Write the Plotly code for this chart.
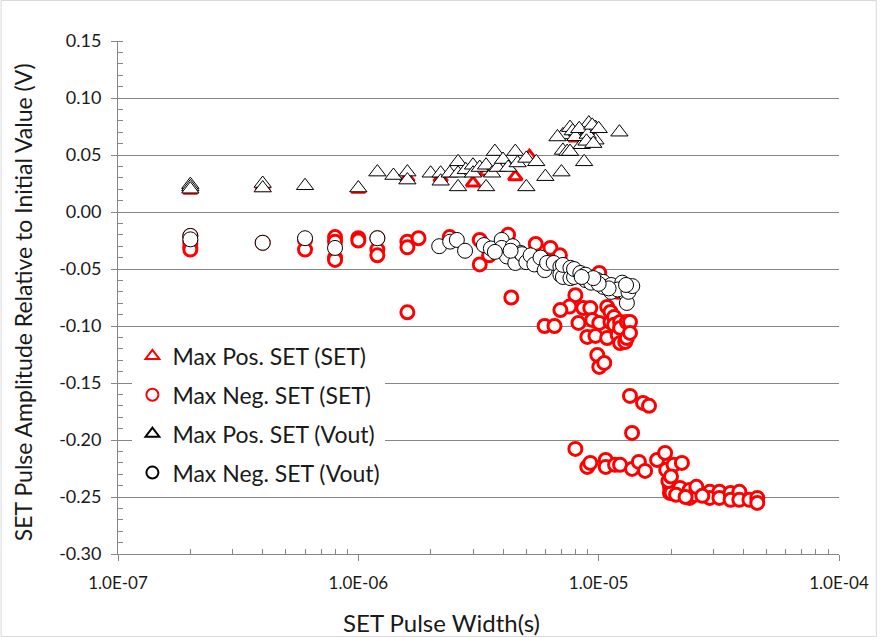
import plotly.graph_objects as go

# ---- data (pulse width in s, amplitude in V) ----
pos_set_x = [2e-7, 2e-7, 4e-7, 1e-6, 1.6e-6, 2.2e-6, 3.0e-6, 3.4e-6, 4.0e-6, 4.5e-6, 5.15e-6, 8e-6, 9e-6]
pos_set_y = [0.019, 0.021, 0.022, 0.020, 0.030, 0.030, 0.0255, 0.035, 0.040, 0.031, 0.049, 0.065, 0.070]

neg_set_x = [2e-7, 2e-7, 2e-7, 2e-7, 2e-7, 4e-7, 6e-7, 6e-7, 8e-7, 8e-7, 8e-7, 8e-7,
             1e-6, 1e-6, 1.2e-6, 1.2e-6, 1.2e-6, 1.6e-6, 1.6e-6, 1.6e-6, 1.78e-6, 2.4e-6,
             3.2e-6, 3.2e-6, 3.5e-6, 4.2e-6, 4.33e-6, 5.47e-6, 6.3e-6, 6.9e-6,
             4.5e-6, 5.0e-6, 7.0e-6, 8.0e-6, 9.0e-6, 1.2e-5, 1.006e-5,
             8.0e-6, 7.56e-6, 6.93e-6, 5.96e-6, 6.55e-6, 8.24e-6, 8.63e-6, 8.97e-6,
             9.23e-6, 9.4e-6, 9.7e-6, 9.87e-6, 1.006e-5, 1.006e-5, 1.055e-5, 1.085e-5,
             1.085e-5, 1.12e-5, 1.12e-5, 1.16e-5, 1.16e-5, 1.2e-5, 1.228e-5, 1.228e-5,
             1.228e-5, 1.29e-5, 1.31e-5, 1.31e-5, 1.35e-5, 1.35e-5,
             1.35e-5, 1.53e-5, 1.62e-5, 1.377e-5,
             8.0e-6, 8.97e-6, 9.23e-6, 1.07e-5, 1.07e-5, 1.17e-5, 1.228e-5, 1.377e-5,
             1.47e-5, 1.56e-5, 1.75e-5, 1.89e-5, 1.91e-5, 2.05e-5, 2.22e-5,
             1.98e-5, 1.98e-5, 2.01e-5, 2.18e-5, 2.39e-5, 2.39e-5, 2.39e-5, 2.51e-5,
             2.55e-5, 2.9e-5, 2.9e-5, 3.18e-5, 3.18e-5, 3.54e-5, 3.54e-5, 3.85e-5,
             3.85e-5, 4.24e-5, 4.57e-5, 4.57e-5,
             1.95e-5, 2.0e-5, 2.1e-5, 2.3e-5, 2.7e-5]
neg_set_y = [-0.021, -0.025, -0.028, -0.031, -0.033, -0.027, -0.0245, -0.033, -0.022, -0.026, -0.040, -0.042,
             -0.023, -0.025, -0.023, -0.033, -0.038, -0.026, -0.031, -0.088, -0.023, -0.022,
             -0.0245, -0.046, -0.038, -0.020, -0.075, -0.028, -0.0315, -0.038,
             -0.035, -0.040, -0.050, -0.055, -0.060, -0.070, -0.0535,
             -0.073, -0.083, -0.086, -0.100, -0.100, -0.0973, -0.0842, -0.1096,
             -0.0842, -0.0947, -0.1087, -0.1254, -0.0973, -0.1359, -0.1324, -0.0833,
             -0.1105, -0.0965, -0.0877, -0.092, -0.099, -0.1078, -0.0965, -0.1017,
             -0.1149, -0.114, -0.0965, -0.1105, -0.0965, -0.1061,
             -0.1613, -0.1675, -0.170, -0.1938,
             -0.2078, -0.2236, -0.2201, -0.2175, -0.2236, -0.2218, -0.2218, -0.2254,
             -0.2192, -0.2271, -0.2175, -0.2113, -0.2262, -0.2218, -0.2201,
             -0.2411, -0.2464, -0.2464, -0.242, -0.2464, -0.2508, -0.2438, -0.2482,
             -0.2411, -0.2455, -0.2508, -0.2455, -0.2508, -0.2464, -0.2525, -0.2455,
             -0.2525, -0.2525, -0.2508, -0.2552,
             -0.236, -0.232, -0.248, -0.250, -0.249]

pos_vout_x = [2e-7, 2e-7, 2e-7, 4e-7, 4e-7, 6e-7, 1e-6, 1.2e-6, 1.4e-6, 1.6e-6, 1.6e-6,
              2e-6, 2.2e-6, 2.2e-6, 2.4e-6, 2.6e-6, 2.6e-6, 2.6e-6, 2.8e-6, 3.0e-6, 3.0e-6,
              3.2e-6, 3.4e-6, 3.4e-6, 3.6e-6, 3.7e-6, 3.8e-6, 4.0e-6, 4.2e-6, 4.5e-6, 4.6e-6,
              5.0e-6, 5.0e-6, 5.5e-6, 6.0e-6, 7.0e-6, 7.1e-6, 7.1e-6, 6.74e-6, 7.4e-6,
              7.6e-6, 7.6e-6, 8.15e-6, 8.5e-6, 8.7e-6, 8.7e-6, 9.1e-6, 9.7e-6, 9.7e-6, 1.22e-5,
              7.8e-6, 8.0e-6, 8.3e-6, 9.0e-6, 9.4e-6, 1.0e-5, 8.9e-6, 9.5e-6]
pos_vout_y = [0.024, 0.022, 0.020, 0.025, 0.021, 0.023, 0.021, 0.035, 0.032, 0.035, 0.028,
              0.034, 0.034, 0.027, 0.034, 0.044, 0.034, 0.022, 0.037, 0.041, 0.034,
              0.039, 0.041, 0.022, 0.034, 0.053, 0.039, 0.046, 0.039, 0.053, 0.043,
              0.022, 0.047, 0.044, 0.031, 0.035, 0.054, 0.0676, 0.0658, 0.053,
              0.074, 0.053, 0.070, 0.059, 0.072, 0.044, 0.078, 0.074, 0.063, 0.070,
              0.071, 0.066, 0.073, 0.068, 0.076, 0.073, 0.062, 0.060]

neg_vout_x = [2e-7, 2e-7, 4e-7, 6e-7, 8e-7, 1.2e-6, 2.17e-6, 2.41e-6, 2.57e-6, 2.78e-6,
              3.33e-6, 3.56e-6, 3.95e-6, 3.95e-6, 4.15e-6, 4.39e-6, 4.5e-6, 4.74e-6, 4.8e-6,
              5.0e-6, 5.21e-6, 5.4e-6, 5.73e-6, 5.96e-6, 6.1e-6, 6.5e-6, 6.93e-6, 6.93e-6,
              7.1e-6, 7.1e-6, 7.63e-6, 7.63e-6, 7.9e-6, 7.9e-6, 8.39e-6, 8.8e-6, 8.8e-6,
              9.3e-6, 9.87e-6, 1.045e-5, 1.045e-5, 1.127e-5, 1.127e-5, 1.253e-5, 1.29e-5,
              1.31e-5, 1.35e-5, 1.2e-5, 1.1e-5, 1.0e-5, 1.33e-5, 9.5e-6, 8.5e-6, 3.7e-6,
              4.3e-6, 1.38e-5, 1.3e-5]
neg_vout_y = [-0.021, -0.024, -0.027, -0.023, -0.0315, -0.023, -0.030, -0.026, -0.0245, -0.034,
              -0.029, -0.032, -0.0245, -0.0315, -0.039, -0.030, -0.0447, -0.036, -0.037,
              -0.044, -0.038, -0.046, -0.040, -0.051, -0.0447, -0.0447, -0.048, -0.055,
              -0.057, -0.0464, -0.049, -0.058, -0.057, -0.050, -0.0535, -0.0596, -0.055,
              -0.062, -0.0596, -0.0613, -0.0657, -0.064, -0.0701, -0.062, -0.071,
              -0.0798, -0.0666, -0.068, -0.067, -0.063, -0.070, -0.058, -0.057, -0.035,
              -0.034, -0.065, -0.064]

x_tick_vals = [1e-7, 1e-6, 1e-5, 1e-4]
x_tick_text = ["1.0E-07", "1.0E-06", "1.0E-05", "1.0E-04"]
y_tick_vals = [0.15, 0.10, 0.05, 0.0, -0.05, -0.10, -0.15, -0.20, -0.25, -0.30]
y_tick_text = ["0.15", "0.10", "0.05", "0.00", "-0.05", "-0.10", "-0.15", "-0.20", "-0.25", "-0.30"]

FONT = "Lato"
RED = "#ff0000"
TXT = "#1a1a1a"

fig = go.Figure()
fig.add_trace(go.Scatter(x=pos_set_x, y=pos_set_y, mode="markers", name="Max Pos. SET (SET)",
                         legendgroup="a",
                         marker=dict(symbol="triangle-up", size=12, color="white",
                                     line=dict(color=RED, width=3))))
fig.add_trace(go.Scatter(x=neg_set_x, y=neg_set_y, mode="markers", name="Max Neg. SET (SET)",
                         legendgroup="b",
                         marker=dict(symbol="circle", size=13, color="white",
                                     line=dict(color=RED, width=3))))
fig.add_trace(go.Scatter(x=pos_vout_x, y=pos_vout_y, mode="markers", name="Max Pos. SET (Vout)",
                         legendgroup="c",
                         marker=dict(symbol="triangle-up", size=15, color="white",
                                     line=dict(color="black", width=1))))
fig.add_trace(go.Scatter(x=neg_vout_x, y=neg_vout_y, mode="markers", name="Max Neg. SET (Vout)",
                         legendgroup="d",
                         marker=dict(symbol="circle", size=15, color="white",
                                     line=dict(color="black", width=1))))

axis_color = "#868686"
fig.update_xaxes(type="log", range=[-7, -4], tickvals=x_tick_vals, ticktext=x_tick_text,
                 showgrid=False, showline=True, linecolor=axis_color, linewidth=1,
                 ticks="outside", ticklen=6, tickcolor=axis_color, ticklabelstandoff=8,
                 minor=dict(ticks="inside", ticklen=5, tickcolor=axis_color, showgrid=False,
                            tickvals=[m * 10 ** e for e in (-7, -6, -5) for m in range(2, 10)]),
                 tickfont=dict(family=FONT, size=17, color=TXT),
                 zeroline=False)
fig.update_yaxes(range=[-0.30, 0.15], tickvals=y_tick_vals, ticktext=y_tick_text,
                 showgrid=True, gridcolor=axis_color, gridwidth=1,
                 showline=True, linecolor=axis_color, linewidth=1,
                 ticks="outside", ticklen=6, tickcolor=axis_color, ticklabelstandoff=6,
                 minor=dict(ticks="inside", ticklen=5, tickcolor=axis_color, dtick=0.01, showgrid=False),
                 tickfont=dict(family=FONT, size=18, color=TXT),
                 zeroline=False)

fig.update_layout(
    width=881, height=637,
    margin=dict(l=118, r=38, t=41, b=83),
    paper_bgcolor="white", plot_bgcolor="white",
    showlegend=True,
    legend=dict(x=0.02, y=0.428, xanchor="left", yanchor="top",
                bgcolor="white", font=dict(family=FONT, size=23, color=TXT),
                tracegroupgap=6, itemsizing="constant"),
    annotations=[
        dict(text="SET Pulse Width(s)", xref="paper", yref="paper",
             x=(443 - 118) / 725, y=-(622 - 554) / 513, xanchor="center", yanchor="middle",
             showarrow=False, font=dict(family=FONT, size=24, color=TXT)),
        dict(text="SET Pulse Amplitude Relative to Initial Value (V)", xref="paper", yref="paper",
             x=-(118 - 22) / 725, y=0.49, xanchor="center", yanchor="middle", textangle=-90,
             showarrow=False, font=dict(family=FONT, size=23, color=TXT)),
    ],
    shapes=[dict(type="rect", xref="paper", yref="paper",
                 x0=-117.5 / 725, x1=1 + 37.5 / 725, y0=-82.5 / 513, y1=1 + 40.5 / 513,
                 line=dict(color="#d9d9d9", width=1), fillcolor="rgba(0,0,0,0)", layer="below")],
)

fig.write_html("out.html")
